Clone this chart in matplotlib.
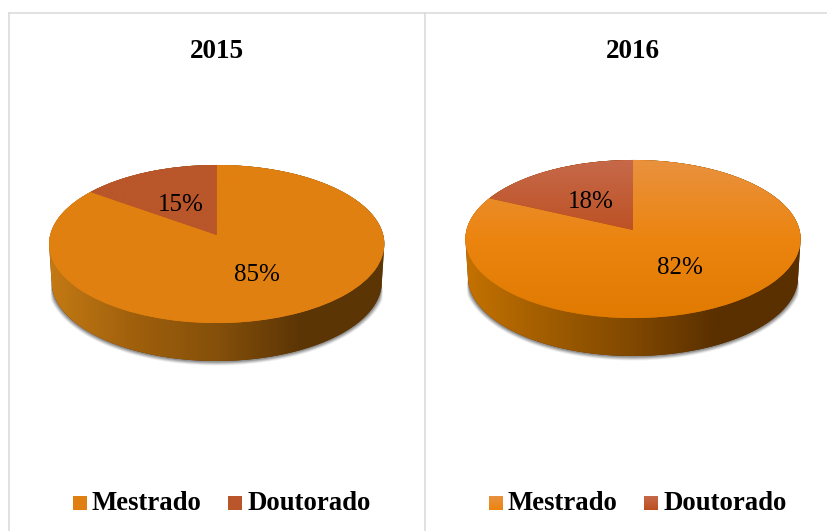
"""Two pseudo-3D pie charts: Mestrado vs Doutorado, 2015 and 2016."""

import numpy as np
import matplotlib
matplotlib.use("Agg")
import matplotlib.pyplot as plt
from matplotlib.colors import LinearSegmentedColormap
from matplotlib.patches import PathPatch
from matplotlib.path import Path
from matplotlib.transforms import Transform, offset_copy

plt.rcParams["font.family"] = ["Liberation Serif", "DejaVu Serif"]

years = ["2015", "2016"]
categories = ["Mestrado", "Doutorado"]
values_2015 = [85, 15]
values_2016 = [82, 18]

mestrado_2015 = ["#e08010", "#e08010"]
doutorado_2015 = ["#b9562a", "#b9562a"]
mestrado_2016 = ["#e9913f", "#ec8510", "#e07a00"]
doutorado_2016 = ["#c6694a", "#bc4f20", "#b5481c"]
wall_2015 = ["#c47a14", "#a0600c", "#85500a", "#5c3505", "#5c3505"]
wall_2016 = ["#c47200", "#a05c00", "#804800", "#5a3000", "#5a3000"]

RX, RY, PERSP, DEPTH = 166.5, 78.0, 0.114, 38.0


class Perspective(Transform):
    """Tilts the unit circle of a pie onto the page, in pixel coordinates."""

    input_dims = 2
    output_dims = 2
    has_inverse = False

    def __init__(self, cx, cy):
        super().__init__()
        self.cx, self.cy = cx, cy

    def transform_non_affine(self, xy):
        xy = np.asarray(xy, dtype=float)
        d = 1.0 + PERSP * xy[:, 1]
        return np.column_stack((self.cx + RX * xy[:, 0] / d,
                                self.cy - RY * xy[:, 1] / d))


def gradient(ax, colors, extent, clip=None, zorder=2, horizontal=False):
    cmap = LinearSegmentedColormap.from_list("g", colors)
    g = np.linspace(0, 1, 256)
    g = g[None, :] if horizontal else g[:, None]
    im = ax.imshow(g, cmap=cmap, extent=extent, origin="upper", aspect="auto",
                   interpolation="bilinear", zorder=zorder)
    if clip is not None:
        im.set_clip_path(clip)
    return im


def draw_pie(ax, year, values, cx, cy, top_colors, wall_colors):
    persp = Perspective(cx, cy)

    # outline of the disc and the side wall below it (far rim a bit narrower)
    t = np.linspace(0, 2 * np.pi, 361)
    rim = persp.transform(np.column_stack((np.cos(t), np.sin(t))))
    upper = rim[rim[:, 1] <= cy + 10]
    lower = rim[rim[:, 1] > cy + 10] + [0, DEPTH]
    lower[:, 0] = cx + (lower[:, 0] - cx) * 0.985
    left_first = upper[np.argsort(upper[:, 0])]
    right_first = lower[np.argsort(-lower[:, 0])]
    body = np.vstack((left_first, right_first, left_first[:1]))

    # soft shadow hugging the lower edge only, fading out at the chord ends
    ys = right_first[:, 1]
    frac = np.clip((ys - ys.min()) / (ys.max() - ys.min()) * 5, 0, 1)
    for grow, alpha in [(4.5, 0.10), (3.5, 0.16), (2.5, 0.22), (1.5, 0.30)]:
        sh = right_first.copy()
        sh[:, 0] = cx + (sh[:, 0] - cx) * (1 + frac * grow / RX)
        sh[:, 1] = cy + DEPTH + (sh[:, 1] - cy - DEPTH) * (1 + frac * grow / 90.0)
        ax.add_patch(PathPatch(Path(np.vstack((sh, sh[:1]))), fc="#4d4d4d", ec="none",
                               alpha=alpha, zorder=0.5))

    wall = PathPatch(Path(body), fc=wall_colors[-1], ec="none", zorder=1)
    ax.add_patch(wall)
    x0, x1 = body[:, 0].min(), body[:, 0].max()
    gradient(ax, wall_colors, (x0, x1, body[:, 1].max(), body[:, 1].min()),
             clip=wall, zorder=1.1, horizontal=True)

    wedges, _, autotexts = ax.pie(values, startangle=90, counterclock=False,
                                  autopct="%.0f%%", pctdistance=0.5,
                                  textprops={"fontsize": 18, "color": "black"})
    top, bottom = rim[:, 1].min(), rim[:, 1].max()
    for w, colors in zip(wedges, top_colors):
        w.set_transform(persp + ax.transData)
        w.set_facecolor(colors[-1])
        w.set_edgecolor("none")
        w.set_zorder(2)
        gradient(ax, colors, (x0, x1, bottom, top), clip=w, zorder=2.1)
    for a in autotexts:
        # labels sit a few pixels under the wedge's mid radius
        a.set_transform(offset_copy(persp + ax.transData, fig=ax.figure, y=-2.5, units="points"))
        a.set_zorder(4)

    ax.text(cx, 51, year, ha="center", va="center", fontsize=19.5, fontweight="bold")


fig = plt.figure(figsize=(8.27, 5.31), dpi=100)
ax = fig.add_axes([0, 0, 1, 1])

draw_pie(ax, years[0], values_2015, 216.7, 235, [mestrado_2015, doutorado_2015], wall_2015)
draw_pie(ax, years[1], values_2016, 633, 230, [mestrado_2016, doutorado_2016], wall_2016)

# legends
swatches = [(73, mestrado_2015), (228, doutorado_2015), (489, mestrado_2016[:2]), (644, doutorado_2016[:2])]
for i, (sx, colors) in enumerate(swatches):
    gradient(ax, colors, (sx, sx + 14, 510, 496), zorder=2)
    ax.text(sx + 19, 504, categories[i % 2], ha="left", va="center",
            fontsize=19.3, fontweight="bold")

# panel borders
ax.plot([8.5, 8.5], [531, 12.5], color="#d9d9d9", lw=1.1)
ax.plot([8.5, 827], [12.5, 12.5], color="#d9d9d9", lw=1.1)
ax.plot([424.5, 424.5], [12.5, 531], color="#d9d9d9", lw=1.1)

ax.set_aspect("auto")
ax.set_xlim(0, 827)
ax.set_ylim(531, 0)
ax.axis("off")

fig.savefig("out.png", dpi=100, facecolor="white")
